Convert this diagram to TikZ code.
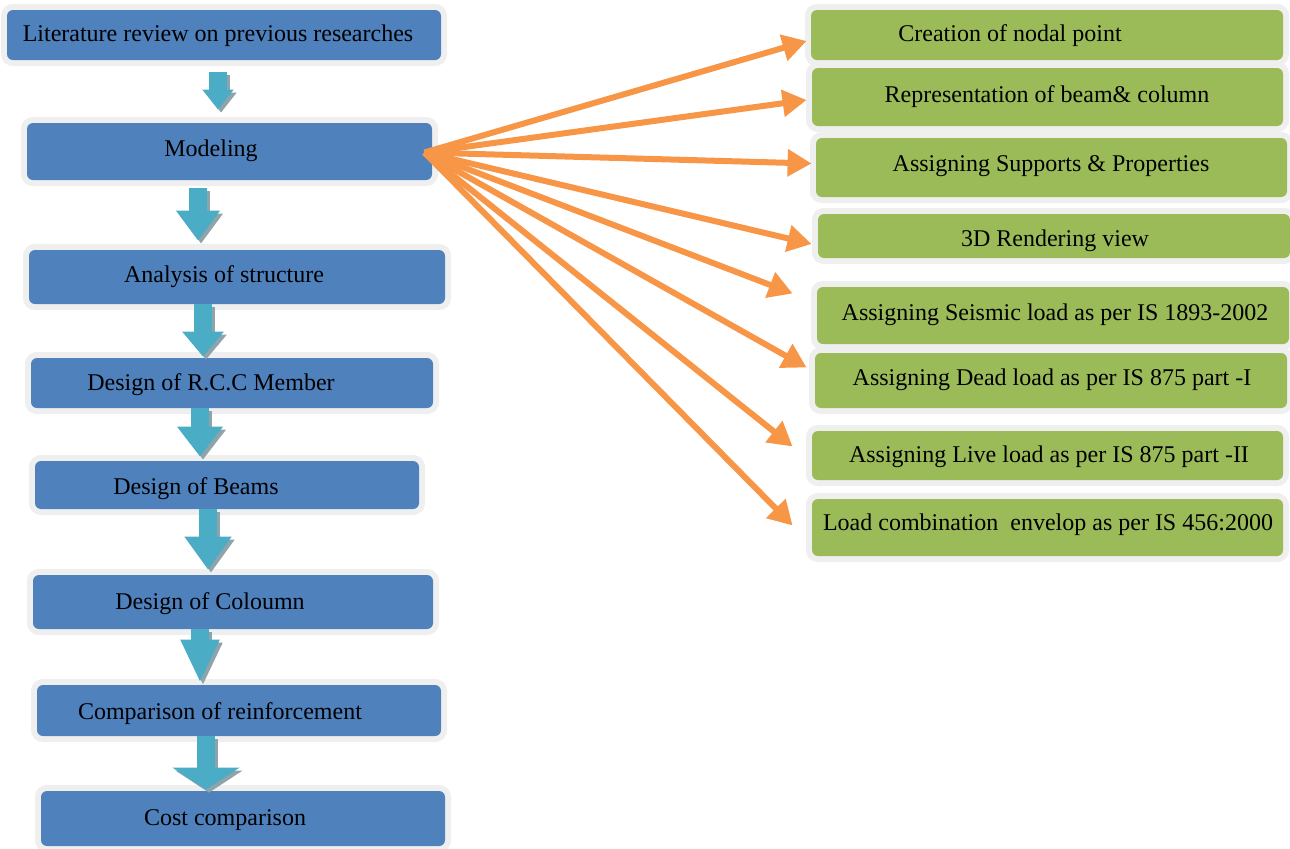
\documentclass[tikz,border=0pt]{standalone}
\usepackage{fontspec}
\setmainfont{Liberation Serif}
\usetikzlibrary{arrows.meta,calc,fit}
\definecolor{bluebox}{HTML}{4F81BD}
\definecolor{greenbox}{HTML}{9BBB59}
\definecolor{orangearr}{HTML}{F79646}
\definecolor{tealarr}{HTML}{4BACC6}
\definecolor{halo}{HTML}{EFEFEF}
\definecolor{shadowc}{HTML}{8FA3AB}
\tikzset{
  boxbase/.style={inner sep=0pt, rounded corners=3pt, preaction={draw=halo, line width=6pt}},
  bbox/.style={boxbase, fill=bluebox},
  gbox/.style={boxbase, fill=greenbox},
  lbl/.style={font=\fontsize{12}{14}\selectfont, text=black, inner sep=0pt},
  oarr/.style={draw=orangearr, line width=3pt, -{Triangle[length=12pt,width=13pt]}},
  barrow/.style={draw=tealarr, line width=9pt},
  bshadow/.style={draw=shadowc, line width=9pt},
}
\newcommand\myblockarrow[4]{%
  \draw[bshadow, -{Triangle[width=#3,length=#4]}] ($#1+(3,3)$) -- ($#2+(3,3)$);
  \draw[barrow, -{Triangle[width=#3,length=#4]}] #1 -- #2;}
\begin{document}
\begin{tikzpicture}[x=0.5pt, y=-0.5pt]
\useasboundingbox (0,0) rectangle (1290,848);
% left column boxes
\node[bbox, fit={(7,10) (441,60)}] (lit) {};
\node[bbox, fit={(27,123) (432,180)}] (mod) {};
\node[bbox, fit={(29,250) (445,304)}] (ana) {};
\node[bbox, fit={(31,358) (433,408)}] (rcc) {};
\node[bbox, fit={(35,461) (419,509)}] (beam) {};
\node[bbox, fit={(33,575) (433,629)}] (col) {};
\node[bbox, fit={(37,685) (441,736)}] (comp) {};
\node[bbox, fit={(41,791) (445,846)}] (cost) {};
% right column boxes
\node[gbox, fit={(811,10) (1283,60)}] (g1) {};
\node[gbox, fit={(812,68) (1283,126)}] (g2) {};
\node[gbox, fit={(816,138) (1287,197)}] (g3) {};
\node[gbox, fit={(818,214) (1290,258)}] (g4) {};
\node[gbox, fit={(817,287) (1289,344)}] (g5) {};
\node[gbox, fit={(815,353) (1287,408)}] (g6) {};
\node[gbox, fit={(812,431) (1283,480)}] (g7) {};
\node[gbox, fit={(812,499) (1283,556)}] (g8) {};
% labels
\node[lbl] (tlit) at (218,36) {Literature review on previous researches};
\node[lbl] (tmod) at (211,151) {Modeling};
\node[lbl] (tana) at (224,277) {Analysis of structure};
\node[lbl] (trcc) at (211,385) {Design of R.C.C Member};
\node[lbl] (tbeam) at (196,489) {Design of Beams};
\node[lbl] (tcol) at (210,604) {Design of Coloumn};
\node[lbl] (tcomp) at (220,714) {Comparison of reinforcement};
\node[lbl] (tcost) at (225,820) {Cost comparison};
\node[lbl] (tg1) at (1010,36) {Creation of nodal point};
\node[lbl] (tg2) at (1047,97) {Representation of beam\& column};
\node[lbl] (tg3) at (1051,166) {Assigning Supports \& Properties};
\node[lbl] (tg4) at (1055,241) {3D Rendering view};
\node[lbl] (tg5) at (1055,315) {Assigning Seismic load as per IS 1893-2002};
\node[lbl] (tg6) at (1052,380) {Assigning Dead load as per IS 875 part -I};
\node[lbl] (tg7) at (1049,457) {Assigning Live load as per IS 875 part -II};
\node[lbl] (tg8) at (1048,525) {Load combination\ \ envelop as per IS 456:2000};
% block arrows
\myblockarrow{($(lit.south)+(-6,12)$)}{($(mod.north)+(-11.5,-13)$)}{15pt}{10pt}
\myblockarrow{($(mod.south)+(-31.5,8)$)}{($(ana.north)+(-39,-9)$)}{21pt}{15pt}
\myblockarrow{($(ana.south)+(-34,0)$)}{($(rcc.north)+(-29,-1)$)}{20pt}{12.5pt}
\myblockarrow{($(rcc.south)+(-32,0)$)}{($(beam.north)+(-27,-4)$)}{22pt}{15pt}
\myblockarrow{($(beam.south)+(-19,0)$)}{($(col.north)+(-25,-5)$)}{22.5pt}{16.5pt}
\myblockarrow{($(col.south)+(-33,0)$)}{($(comp.north)+(-39,-2)$)}{18pt}{21.5pt}
\myblockarrow{($(comp.south)+(-33,0)$)}{($(cost.north)+(-37,-1)$)}{33pt}{11pt}
% orange fan
\coordinate (o) at ($(mod.east)+(-8,1)$);
\draw[oarr] (o) -- ($(g1.west)+(-4,6)$);
\draw[oarr] (o) -- ($(g2.west)+(-5,3)$);
\draw[oarr] (o) -- ($(g3.west)+(-4,-4)$);
\draw[oarr] (o) -- ($(g4.west)+(-6,8)$);
\draw[oarr] (o) -- ($(g5.west)+(-24,-22)$);
\draw[oarr] (o) -- ($(g6.west)+(-8,-13)$);
\draw[oarr] (o) -- ($(g7.west)+(-19,-9)$);
\draw[oarr] (o) -- ($(g8.west)+(-19,-2)$);
\end{tikzpicture}
\end{document}
